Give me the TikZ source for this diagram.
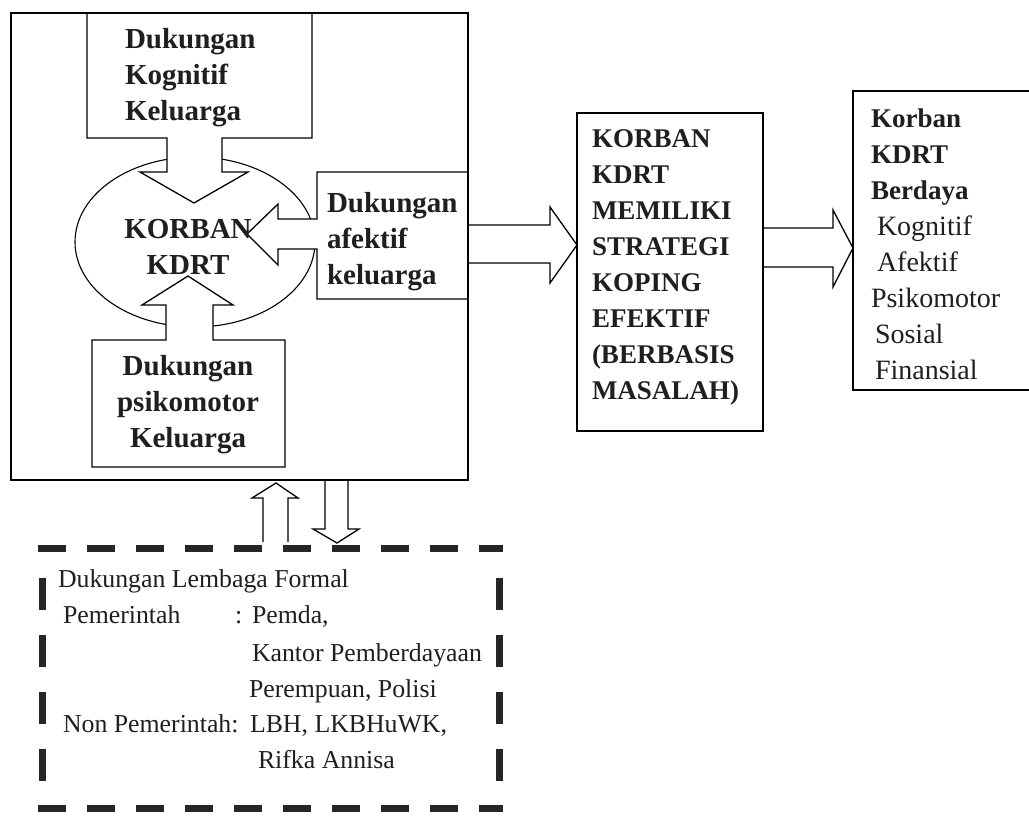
\documentclass[tikz,border=0pt]{standalone}
\usepackage{fontspec}
\setmainfont{Liberation Serif}
\usetikzlibrary{shapes.geometric}
\newcommand{\bfline}[1]{{\fontsize{27}{36}\selectfont\bfseries #1}}
\begin{document}
\begin{tikzpicture}[x=1pt,y=-1pt,line width=1.3pt,
  frame/.style={draw=black, line width=1.3pt, inner sep=0pt, outer sep=0pt},
  blockarrow/.style={draw=black, fill=white, line width=1.3pt, line join=miter},
  plain/.style={inner sep=0pt, outer sep=0pt, align=left, font=\fontsize{25.8}{36}\selectfont, text=black!88},
  bold/.style={plain, font=\fontsize{27}{36}\selectfont\bfseries},
  boldbig/.style={plain, font=\fontsize{29}{36}\selectfont\bfseries},
  hdash/.style={line width=7pt, dash pattern=on 28pt off 21pt, draw=black!85},
  vdash/.style={line width=7pt, dash pattern=on 32pt off 25pt, draw=black!85}]

\clip (0,0) rectangle (1029,815);
\fill[white] (0,0) rectangle (1029,815);

% named frames
\node[frame, anchor=north west, minimum width=457pt, minimum height=467pt] (outer) at (11,13) {};
\node[frame, anchor=north west, minimum width=186pt, minimum height=318pt] (strat) at (577,113) {};
\node[frame, anchor=north west, minimum width=200pt, minimum height=299pt] (result) at (853,91) {};

% ellipse
\node[draw=black, ellipse, line width=1.1pt, minimum width=240pt, minimum height=170pt, inner sep=0pt] (victim) at (195,242) {};

% support boxes with their block arrows
\draw[blockarrow] (167,138) -- (87,138) -- (87,13) -- (312,13) -- (312,138) -- (222,138) -- (222,172) -- (248,172) -- (194,203) -- (140,172) -- (167,172) -- cycle;
\draw[blockarrow] (166,340) -- (92,340) -- (92,467) -- (285,467) -- (285,340) -- (213,340) -- (213,305) -- (233,305) -- (188,276) -- (142,305) -- (166,305) -- cycle;
\draw[blockarrow] (317,219) -- (317,172) -- (468,172) -- (468,299) -- (317,299) -- (317,249) -- (278,249) -- (278,265) -- (247,234) -- (278,204) -- (278,219) -- cycle;

% connectors
\draw[blockarrow] (outer.east |- 0,225) -- (550,225) -- (550,207) -- (strat.west |- 0,245) -- (550,283) -- (550,263) -- (outer.east |- 0,263);
\draw[blockarrow] (strat.east |- 0,228) -- (833,228) -- (833,210) -- (result.west |- 0,248) -- (833,287) -- (833,267) -- (strat.east |- 0,267);
\draw[blockarrow] (263,542) -- (263,498) -- (252,498) -- (276,483) -- (298,498) -- (288,498) -- (288,542);
\draw[blockarrow] (325,481) -- (325,529) -- (313,529) -- (337,543) -- (359,529) -- (348,529) -- (348,481);

% redraw frame borders on top
\draw[frame] (outer.north west) rectangle (outer.south east);
\draw[frame] (strat.north west) rectangle (strat.south east);

% dashed box
\draw[hdash] (38,548) -- (503,548);
\draw[hdash] (38,808) -- (503,808);
\draw[vdash] (42,578) -- (42,812);
\draw[vdash] (499,578) -- (499,812);

% texts
\node[boldbig, anchor=north west] (tkog) at (125,28.5) {Dukungan\\Kognitif\\Keluarga};
\node[boldbig, anchor=north, align=center] (tvic) at (188,219) {KORBAN\\KDRT};
\node[boldbig, anchor=north west] (tafe) at (327,192.5) {Dukungan\\afektif\\keluarga};
\node[boldbig, anchor=north, align=center] (tpsi) at (188,355.5) {Dukungan\\psikomotor\\Keluarga};
\node[bold, anchor=north west] (tstr) at (592,130) {KORBAN\\KDRT\\MEMILIKI\\STRATEGI\\KOPING\\EFEKTIF\\(BERBASIS\\MASALAH)};
\node[plain, anchor=north west, font=\fontsize{28}{36}\selectfont] (tres) at (871,109) {\bfline{Korban}\\\bfline{KDRT}\\\bfline{Berdaya}\\\hspace*{6pt}Kognitif\\\hspace*{6pt}Afektif\\Psikomotor\\\hspace*{4pt}Sosial\\\hspace*{4pt}Finansial};

\node[plain, anchor=base west] (dlf) at (58,587) {Dukungan Lembaga Formal};
\node[plain, anchor=base west] (dpem) at (63,623) {Pemerintah};
\node[plain, anchor=base west] (dcol) at (235,623) {:};
\node[plain, anchor=base west] (d1) at (252,623) {Pemda,};
\node[plain, anchor=base west] (d2) at (252,661) {Kantor Pemberdayaan};
\node[plain, anchor=base west] (d3) at (249,697) {Perempuan, Polisi};
\node[plain, anchor=base west] (dnon) at (63,732) {Non Pemerintah:};
\node[plain, anchor=base west] (d4) at (250,732) {LBH, LKBHuWK,};
\node[plain, anchor=base west] (d5) at (258,768) {Rifka Annisa};
\end{tikzpicture}
\end{document}
